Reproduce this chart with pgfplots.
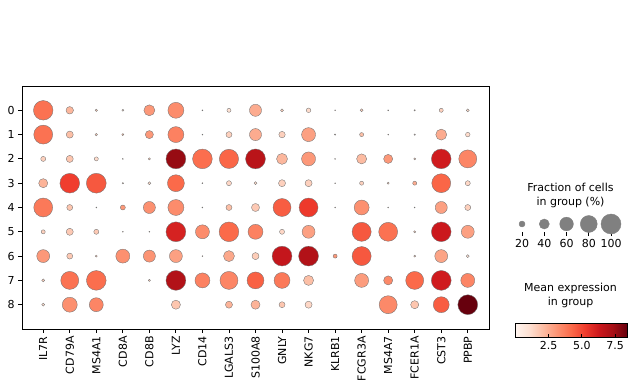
\documentclass[border=0pt]{standalone}
\usepackage{pgfplots}
\pgfplotsset{compat=1.18}
\usepackage{pgfplotstable}
\usepackage{fontspec}
\setmainfont{DejaVu Sans}
\pgfplotsset{
  colormap={reds}{rgb255=(255,245,240) rgb255=(254,224,210) rgb255=(252,187,161) rgb255=(252,146,114) rgb255=(251,106,74) rgb255=(239,59,44) rgb255=(203,24,29) rgb255=(165,15,21) rgb255=(103,0,13)},
  every tick label/.append style={font=\fontsize{11}{13}\selectfont},
  /pgf/number format/assume math mode=true,
}
% x = gene index, y = group (row), f = fraction of cells (%), c = mean expression
\pgfplotstableread{
x y f c
0 0 97 4.0
1 0 27 2.2
2 0 6 1.5
3 0 4.6 1.0
4 0 45 3.0
5 0 74 3.3
6 0 2 1.0
7 0 12 1.0
8 0 51 2.5
9 0 8 1.5
10 0 14 1.2
11 0 2 1.0
12 0 8 1.5
13 0 2 1.0
14 0 3 1.5
15 0 12 1.5
16 0 8 1.2
0 1 93 4.0
1 1 25 2.0
2 1 6 1.5
3 1 5 2.0
4 1 30 3.0
5 1 74 3.6
6 1 2 1.0
7 1 20 1.5
8 1 51 2.5
9 1 22 1.5
10 1 62 2.8
11 1 3 1.0
12 1 12 2.0
13 1 2 1.0
14 1 3 1.0
15 1 45 2.5
16 1 14 1.2
0 2 16 1.5
1 2 25 1.8
2 2 12 1.2
3 2 2 0.8
4 2 5 1.5
5 2 99 7.6
6 2 98 4.1
7 2 95 4.3
8 2 99 6.8
9 2 45 2.2
10 2 62 3.0
11 2 2 0.5
12 2 40 2.1
13 2 35 3.0
14 2 5 1.5
15 2 98 6.2
16 2 87 3.5
0 3 35 2.3
1 3 98 5.2
2 3 99 4.6
3 3 3 1.0
4 3 8 1.2
5 3 80 4.2
6 3 2 1.0
7 3 16 1.3
8 3 8 1.2
9 3 25 1.5
10 3 25 1.5
11 3 2 1.0
12 3 12 1.5
13 3 5 1.5
14 3 12 2.5
15 3 93 4.3
16 3 16 1.3
0 4 93 3.8
1 4 20 1.8
2 4 2 1.0
3 4 16 3.0
4 4 51 3.2
5 4 74 3.3
6 4 2 1.0
7 4 20 2.0
8 4 30 1.7
9 4 87 4.5
10 4 93 5.3
11 4 2 1.0
12 4 68 3.2
13 4 2 1.0
14 4 2 1.0
15 4 51 2.8
16 4 20 1.5
0 5 12 1.5
1 5 25 1.7
2 5 16 1.7
3 5 2 1.0
4 5 2 1.0
5 5 99 6.0
6 5 62 3.3
7 5 98 4.2
8 5 68 3.6
9 5 16 1.3
10 5 56 2.8
12 5 94 4.6
13 5 93 4.0
14 5 5 1.5
15 5 98 6.3
16 5 56 2.8
0 6 56 3.0
1 6 20 1.7
2 6 5 1.5
3 6 62 3.2
4 6 51 3.1
5 6 56 2.8
6 6 2 1.5
7 6 45 2.6
8 6 25 1.6
9 6 99 6.5
10 6 99 7.0
11 6 12 3.0
12 6 94 4.6
14 6 5 1.5
15 6 56 2.7
16 6 8 1.0
0 7 8 1.5
1 7 87 4.0
2 7 98 4.1
4 7 5 1.5
5 7 99 7.0
6 7 68 3.6
7 7 87 3.5
8 7 80 4.4
9 7 74 3.8
10 7 40 2.0
12 7 62 2.9
13 7 35 3.4
14 7 87 4.2
15 7 99 6.2
16 7 62 3.5
0 8 8 1.2
1 8 68 3.2
2 8 62 3.5
5 8 35 1.8
7 8 25 2.3
8 8 35 2.3
9 8 20 1.8
10 8 25 1.3
13 8 87 3.4
14 8 30 1.8
15 8 74 4.5
16 8 99 8.4
}\dotdata
\pgfplotstableread{
x f
0 20
1 40
2 60
3 80
4 100
}\sizelegend
\begin{document}
\begin{tikzpicture}[x=1pt,y=1pt]
\useasboundingbox (0,0) rectangle (636,391);
\begin{axis}[
  at={(22pt,62pt)}, anchor=south west,
  width=467pt, height=243pt, scale only axis,
  xmin=-0.8, xmax=16.8, ymin=-1, ymax=9,
  xtick={0,...,16},
  xticklabels={IL7R,CD79A,MS4A1,CD8A,CD8B,LYZ,CD14,LGALS3,S100A8,GNLY,NKG7,KLRB1,FCGR3A,MS4A7,FCER1A,CST3,PPBP},
  ytick={0,...,8},
  yticklabels={8,7,6,5,4,3,2,1,0},
  xticklabel style={rotate=90, anchor=east},
  xtick pos=left, ytick pos=left,
  tick align=outside, major tick length=3.9pt,
  tick style={black, line width=0.9pt},
  axis line style={line width=0.9pt},
  colormap name=reds,
  point meta min=0, point meta max=8.4,
  colorbar horizontal,
  colorbar style={
    at={(parent axis.south east)}, anchor=south west, xshift=26.4pt,
    width=111.6pt, height=14pt, scale only axis,
    xtick={2.5,5,7.5},
    xticklabel={\pgfmathprintnumber[fixed,fixed zerofill,precision=1]{\tick}},
    xtick pos=left, xticklabel pos=left,
    tick align=inside, major tick length=4pt,
    tick style={black, line width=0.9pt},
    axis line style={line width=0.9pt},
  },
]
\addplot[
  scatter, only marks, mark=*,
  point meta=\thisrow{c},
  scatter/use mapped color={draw=black!55, fill=mapped color},
  mark options={line width=0.35pt},
  visualization depends on={10*(\thisrow{f}/100)^0.75 \as \msize},
  scatter/@pre marker code/.append style={/tikz/mark size=\msize pt},
] table[x=x, y expr=8-\thisrow{y}] {\dotdata};
\end{axis}
\begin{axis}[
  at={(510.9pt,159pt)}, anchor=south west,
  width=111.25pt, height=16pt, scale only axis,
  xmin=-0.5, xmax=4.5, ymin=-1, ymax=1,
  axis line style={draw=none},
  xtick={0,...,4}, xticklabels={20,40,60,80,100},
  ytick=\empty,
  xtick pos=left, tick align=outside, major tick length=4pt,
  tick style={black, line width=0.9pt},
  clip=false,
]
\addplot[
  only marks, mark=*, mark options={fill=gray, draw=gray},
  visualization depends on={10*(\thisrow{f}/100)^0.75 \as \msize},
  scatter, scatter/use mapped color={draw=gray, fill=gray},
  scatter/@pre marker code/.append style={/tikz/mark size=\msize pt},
] table[x=x, y expr=0] {\sizelegend};
\end{axis}
\node[align=center, font=\fontsize{11}{14.5}\selectfont] at (570.5,195.5) {Fraction of cells\\in group (\%)};
\node[align=center, font=\fontsize{11}{14.5}\selectfont] at (570.5,95.5) {Mean expression\\in group};
\end{tikzpicture}
\end{document}
